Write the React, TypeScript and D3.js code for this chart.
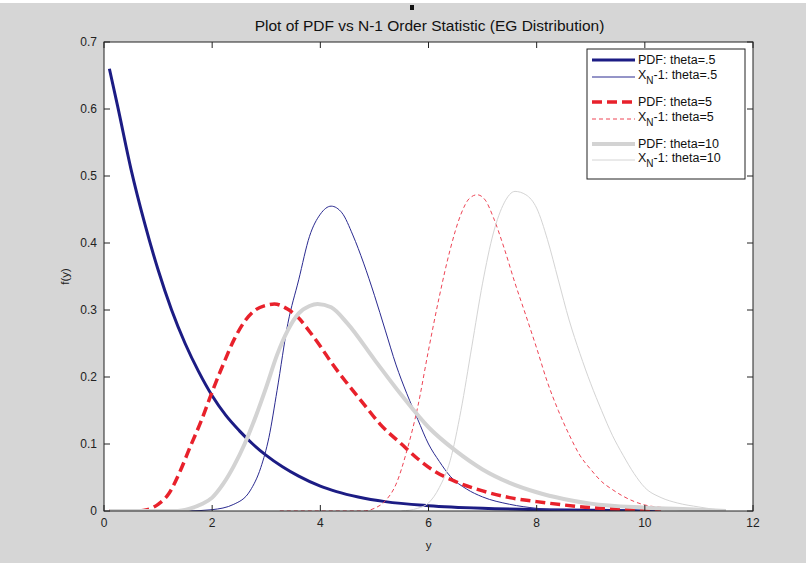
import React from 'react';
import * as d3 from 'd3';

// values: [y, f(y)]
const pdfTheta05: [number, number][] = [
  [0.1, 0.66], [0.25, 0.605], [0.5, 0.51], [0.75, 0.43], [1.0, 0.36], [1.25, 0.3], [1.5, 0.25],
  [1.75, 0.208], [2.0, 0.172], [2.25, 0.143], [2.5, 0.12], [2.75, 0.1], [3.0, 0.083],
  [3.3, 0.066], [3.6, 0.052], [4.0, 0.037], [4.3, 0.029], [4.7, 0.021], [5.2, 0.014],
  [6.0, 0.008], [7.0, 0.004], [8.0, 0.002], [9.0, 0.001], [10.3, 0],
];
const xnTheta05: [number, number][] = [
  [1.55, 0], [2.0, 0.002], [2.4, 0.01], [2.7, 0.03], [2.9, 0.065], [3.05, 0.11], [3.2, 0.18],
  [3.4, 0.28], [3.6, 0.345], [3.8, 0.41], [4.0, 0.443], [4.2, 0.455], [4.4, 0.445], [4.6, 0.412],
  [4.8, 0.37], [5.0, 0.322], [5.2, 0.27], [5.4, 0.218], [5.6, 0.175], [5.8, 0.137], [6.0, 0.1],
  [6.2, 0.074], [6.4, 0.052], [6.7, 0.033], [7.0, 0.021], [7.5, 0.01], [8.0, 0.004],
  [8.5, 0.001], [9.0, 0],
];
const pdfTheta5: [number, number][] = [
  [0.1, 0], [0.6, 0], [0.8, 0.002], [1.0, 0.01], [1.2, 0.026], [1.4, 0.058], [1.6, 0.097],
  [1.8, 0.135], [2.0, 0.178], [2.2, 0.218], [2.4, 0.255], [2.6, 0.283], [2.8, 0.3], [3.0, 0.307],
  [3.15, 0.309], [3.4, 0.301], [3.6, 0.288], [3.8, 0.268], [4.0, 0.246], [4.2, 0.222],
  [4.5, 0.19], [4.8, 0.16], [5.1, 0.13], [5.5, 0.1], [5.8, 0.078], [6.1, 0.06], [6.5, 0.044],
  [7.0, 0.03], [7.5, 0.02], [8.0, 0.014], [8.5, 0.009], [9.0, 0.005], [9.5, 0.003],
  [10.3, 0],
];
const xnTheta5: [number, number][] = [
  [3.25, 0], [4.8, 0], [5.0, 0.004], [5.2, 0.015], [5.4, 0.04], [5.6, 0.09], [5.8, 0.155],
  [6.0, 0.24], [6.2, 0.32], [6.4, 0.39], [6.6, 0.443], [6.75, 0.466], [6.9, 0.472], [7.05, 0.464],
  [7.2, 0.438], [7.4, 0.392], [7.6, 0.34], [7.8, 0.292], [8.0, 0.243], [8.2, 0.192],
  [8.4, 0.15], [8.6, 0.114], [8.8, 0.083], [9.0, 0.062], [9.2, 0.044], [9.4, 0.032],
  [9.6, 0.022], [10.0, 0.009], [10.5, 0.004], [11.1, 0],
];
const pdfTheta10: [number, number][] = [
  [0.1, 0], [1.3, 0], [1.6, 0.004], [1.8, 0.01], [2.0, 0.02], [2.2, 0.04], [2.4, 0.067],
  [2.6, 0.1], [2.8, 0.14], [3.0, 0.185], [3.2, 0.233], [3.4, 0.27], [3.6, 0.295], [3.8, 0.306],
  [3.95, 0.309], [4.2, 0.304], [4.5, 0.28], [5.0, 0.226], [5.5, 0.173], [6.0, 0.125],
  [6.5, 0.09], [7.0, 0.062], [7.5, 0.042], [8.0, 0.028], [8.5, 0.018], [9.0, 0.011],
  [10.0, 0.005], [11.0, 0.002], [11.5, 0],
];
const xnTheta10: [number, number][] = [
  [5.5, 0], [5.8, 0.004], [6.0, 0.012], [6.2, 0.035], [6.4, 0.075], [6.6, 0.15], [6.8, 0.245],
  [7.0, 0.34], [7.2, 0.415], [7.4, 0.46], [7.6, 0.477], [7.8, 0.472], [8.0, 0.452],
  [8.2, 0.405], [8.4, 0.345], [8.6, 0.285], [8.8, 0.235], [9.0, 0.19], [9.2, 0.15],
  [9.4, 0.113], [9.6, 0.083], [9.8, 0.056], [10.0, 0.035], [10.3, 0.02], [10.6, 0.012],
  [11.0, 0.006], [11.5, 0],
];

const xTicks = [0, 2, 4, 6, 8, 10, 12];
const yTicks = [0, 0.1, 0.2, 0.3, 0.4, 0.5, 0.6, 0.7];

const series = [
  { name: 'PDF: theta=.5', sub: false, data: pdfTheta05, color: '#1c1c84', width: 3, dash: '' },
  { name: 'theta=.5', sub: true, data: xnTheta05, color: '#2a2a90', width: 1, dash: '' },
  { name: 'PDF: theta=5', sub: false, data: pdfTheta5, color: '#e8212b', width: 3.5, dash: '10,5' },
  { name: 'theta=5', sub: true, data: xnTheta5, color: '#ee4455', width: 1, dash: '4,3' },
  { name: 'PDF: theta=10', sub: false, data: pdfTheta10, color: '#d3d3d3', width: 4, dash: '' },
  { name: 'theta=10', sub: true, data: xnTheta10, color: '#d4d4d4', width: 1, dash: '' },
];

const W = 806;
const H = 563;
const left = 104;
const right = 753;
const top = 42;
const bottom = 511;
const font = 'Liberation Sans, Arial, sans-serif';

export default function App() {
  const x = d3.scaleLinear().domain([0, 12]).range([left, right]);
  const y = d3.scaleLinear().domain([0, 0.7]).range([bottom, top]);
  const line = d3.line<[number, number]>()
    .x(d => x(d[0]))
    .y(d => y(d[1]))
    .curve(d3.curveMonotoneX);

  const legendRows = [60, 77, 102, 119, 144, 160];

  return (
    <svg width={W} height={H} style={{ position: 'absolute', left: 0, top: 0 }} fontFamily={font}>
      <rect x={0} y={0} width={W} height={H} fill="#d6d6d6" />
      <rect x={0} y={0} width={W} height={3} fill="#ffffff" />
      <rect x={410} y={5} width={4} height={5} fill="#111" />
      <rect x={left} y={top} width={right - left} height={bottom - top} fill="#ffffff" />

      <clipPath id="plotclip">
        <rect x={left} y={top - 2} width={right - left} height={bottom - top + 2} />
      </clipPath>
      <g clipPath="url(#plotclip)">
        {series.map((s, i) => (
          <path key={i} d={line(s.data) || ''} fill="none" stroke={s.color}
            strokeWidth={s.width} strokeDasharray={s.dash || undefined} />
        ))}
      </g>

      <rect x={left} y={top} width={right - left} height={bottom - top} fill="none" stroke="#222" strokeWidth={1} />
      {xTicks.map(t => (
        <g key={'x' + t}>
          <line x1={x(t)} x2={x(t)} y1={bottom} y2={bottom - 6} stroke="#222" />
          <line x1={x(t)} x2={x(t)} y1={top} y2={top + 6} stroke="#222" />
          <text x={x(t)} y={527} fontSize={12} textAnchor="middle" fill="#222">{t}</text>
        </g>
      ))}
      {yTicks.map(t => (
        <g key={'y' + t}>
          <line x1={left} x2={left + 6} y1={y(t)} y2={y(t)} stroke="#222" />
          <line x1={right} x2={right - 6} y1={y(t)} y2={y(t)} stroke="#222" />
          <text x={97} y={y(t) + 4} fontSize={12} textAnchor="end" fill="#222">{t === 0 ? '0' : t.toString()}</text>
        </g>
      ))}

      <text x={(left + right) / 2 + 1} y={31} fontSize={15.5} textAnchor="middle" fill="#111">
        Plot of PDF vs N-1 Order Statistic (EG Distribution)
      </text>
      <text x={(left + right) / 2} y={549} fontSize={11.5} textAnchor="middle" fill="#222">y</text>
      <text transform={`translate(69,${(top + bottom) / 2}) rotate(-90)`} fontSize={11.5} textAnchor="middle" fill="#222">f(y)</text>

      <rect x={587} y={49} width={158} height={130} fill="#ffffff" stroke="#222" strokeWidth={1} />
      {series.map((s, i) => (
        <g key={'l' + i}>
          <line x1={592} x2={635} y1={legendRows[i]} y2={legendRows[i]} stroke={s.color}
            strokeWidth={s.width} strokeDasharray={s.dash || undefined} />
          {s.sub ? (
            <text x={638} y={legendRows[i] + 2} fontSize={12.5} fill="#111">
              X<tspan fontSize={10} dy={5}>N</tspan><tspan dy={-5}>-1: {s.name}</tspan>
            </text>
          ) : (
            <text x={638} y={legendRows[i] + 4} fontSize={12.5} fill="#111">{s.name}</text>
          )}
        </g>
      ))}
    </svg>
  );
}
